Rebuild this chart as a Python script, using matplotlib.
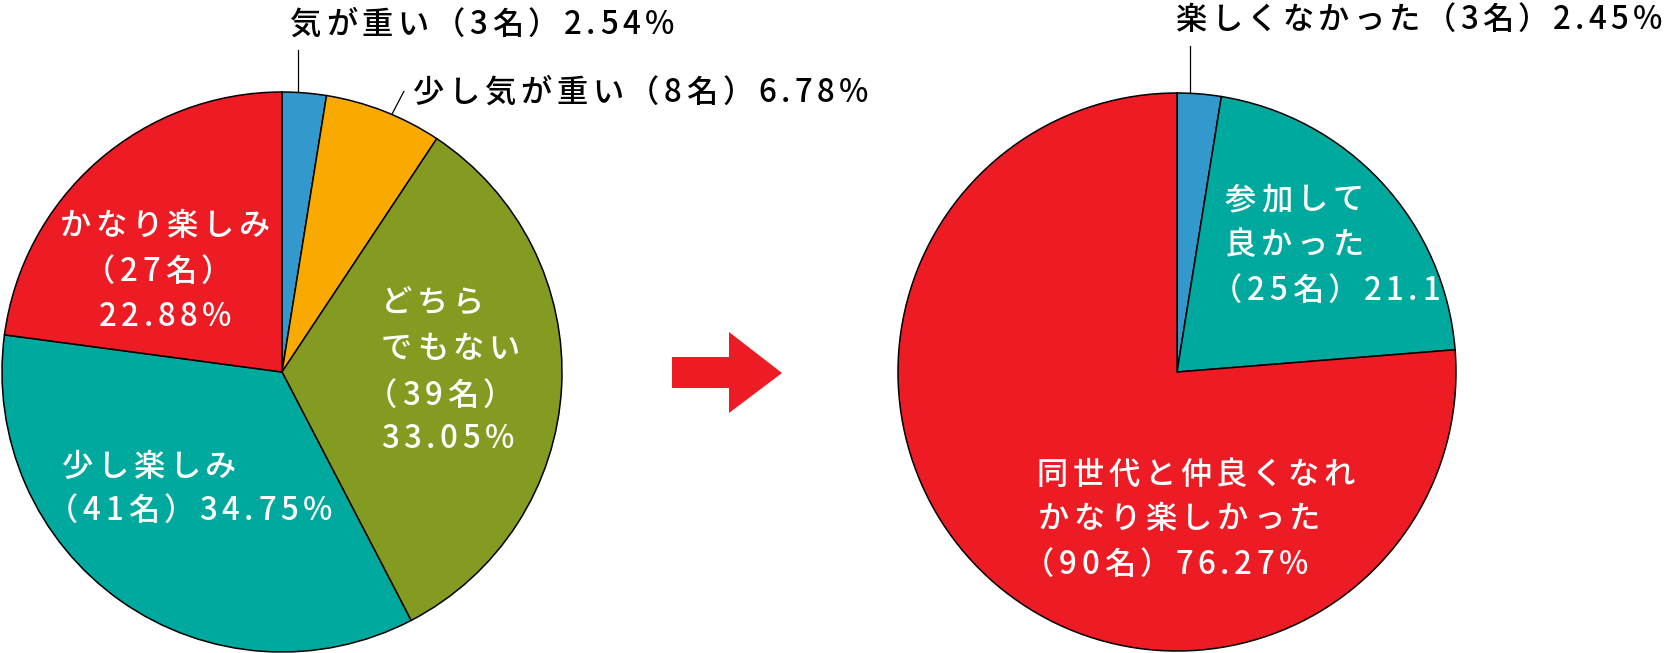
import numpy as np
import matplotlib
matplotlib.use("Agg")
import matplotlib.pyplot as plt
from matplotlib import font_manager
from matplotlib.font_manager import FontProperties
from matplotlib.patches import Polygon

# ---------------- data ----------------
left_labels = ["気が重い", "少し気が重い", "どちらでもない", "少し楽しみ", "かなり楽しみ"]
left_counts = [3, 8, 39, 41, 27]
left_pcts = ["2.54", "6.78", "33.05", "34.75", "22.88"]
left_colors = ["#3399cc", "#f9aa00", "#849b22", "#00a99d", "#ed1c24"]

right_labels = ["楽しくなかった", "参加して良かった", "同世代と仲良くなれかなり楽しかった"]
right_counts = [3, 25, 90]
right_pcts = ["2.45", "21.19", "76.27"]
right_colors = ["#3399cc", "#00a99d", "#ed1c24"]

W, H = 1666, 653
FS = 22.5
TRACK = 4.6

fig = plt.figure(figsize=(W / 100, H / 100), dpi=100)
ax = fig.add_axes([0, 0, 1, 1])

LC = (282, 281)   # y-up coordinates
RC = (1177, 281)
R = 280

wp = dict(edgecolor="black", linewidth=1.1)
ax.pie(left_counts, colors=left_colors, startangle=90, counterclock=False,
       center=LC, radius=R, wedgeprops=wp)
ax.pie(right_counts, colors=right_colors, startangle=90, counterclock=False,
       center=RC, radius=R - 1, wedgeprops=wp)
ax.set_xlim(0, W)
ax.set_ylim(0, H)
ax.set_aspect("auto")
ax.axis("off")

FP = FontProperties(family="Noto Sans CJK JP", size=FS, weight="medium")
cjk_font = font_manager.get_font(font_manager.findfont(FP))


def advance(ch):
    cjk_font.set_size(FS, 100)
    g = cjk_font.load_char(ord(ch))
    return g.linearHoriAdvance / 65536


def tracked(x, ybase_px, s, color, ha="left", track=TRACK, right_limit=None):
    advs = [advance(c) for c in s]
    if right_limit is not None:
        # squeeze the tracking so that the line ends before right_limit
        avail = right_limit - x - sum(advs)
        track = min(track, avail / (len(s) - 1))
    total = sum(advs) + track * (len(s) - 1)
    if ha == "center":
        x -= total / 2
    for c, a in zip(s, advs):
        ax.text(x, H - ybase_px, c, fontproperties=FP, color=color,
                ha="left", va="baseline")
        x += a + track


def lbl(i, labels, counts, pcts):
    return labels[i], f"（{counts[i]}名）", f"{pcts[i]}%"


# ---- left pie: outside labels ----
n, c, p = lbl(0, left_labels, left_counts, left_pcts)
tracked(290, 34, n + c + p, "black")
n, c, p = lbl(1, left_labels, left_counts, left_pcts)
tracked(413, 102, n + c + p, "black")

# leader lines
def circ(center, r, ang):
    return center[0] + r * np.cos(np.radians(ang)), center[1] + r * np.sin(np.radians(ang))

x0, y0 = circ(LC, R, 86.7)
ax.plot([x0, x0], [y0, H - 50], color="black", lw=0.9)
x0, y0 = circ(LC, R, 66.9)
ax.plot([x0, x0 + 12], [y0, y0 + 23], color="black", lw=0.9)
x0, y0 = circ(RC, R - 1, 87.3)
ax.plot([x0, x0], [y0, H - 46], color="black", lw=0.9)

# ---- left pie: inside labels ----
n, c, p = lbl(4, left_labels, left_counts, left_pcts)
tracked(165, 235, n, "white", ha="center")
tracked(158, 281, c, "white", ha="center")
tracked(165, 326, p, "white", ha="center")

n, c, p = lbl(2, left_labels, left_counts, left_pcts)
tracked(381, 312, n[:3], "white")
tracked(381, 358, n[3:], "white")
tracked(366, 405, c, "white")
tracked(381, 448, p, "white")

n, c, p = lbl(3, left_labels, left_counts, left_pcts)
tracked(62, 476, n, "white")
tracked(47, 520, c + p, "white")

# ---- right pie ----
n, c, p = lbl(0, right_labels, right_counts, right_pcts)
tracked(1176, 29, n + c + p, "black", right_limit=W - 4)

n, c, p = lbl(1, right_labels, right_counts, right_pcts)
tracked(1225, 209, n[:4], "white")
tracked(1225, 254, n[4:], "white")
tracked(1211, 300, c + p, "white")

n, c, p = lbl(2, right_labels, right_counts, right_pcts)
tracked(1037, 484, n[:9], "white")
tracked(1038, 528, n[9:], "white")
tracked(1023, 574, c + p, "white")

# ---- arrow ----
arrow = [(672, 357), (729, 357), (729, 332), (782, 373), (729, 413),
         (729, 388), (672, 388)]
ax.add_patch(Polygon([(x, H - y) for x, y in arrow], closed=True,
                     facecolor="#ed1c24", edgecolor="none"))

fig.savefig("out.png", dpi=100)
